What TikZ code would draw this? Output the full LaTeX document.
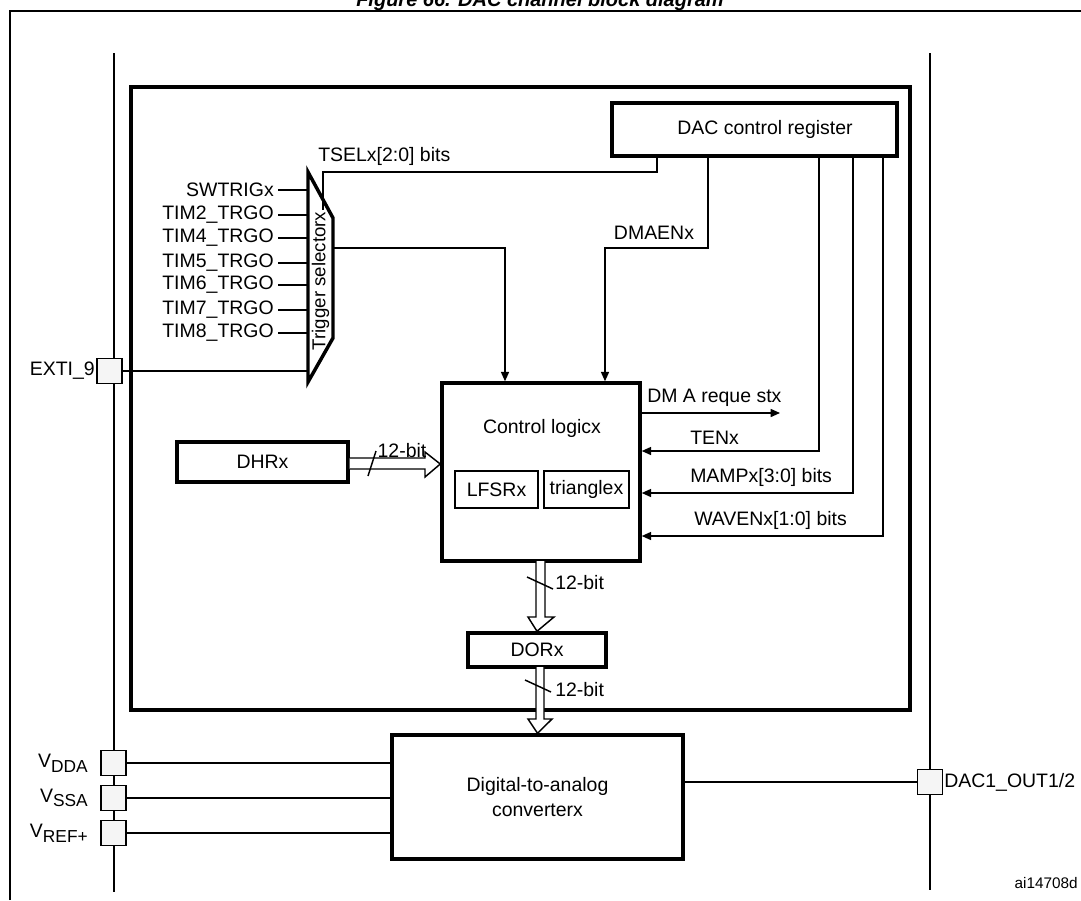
\documentclass[tikz,border=0pt]{standalone}
\usepackage{fontspec}
\setmainfont{Liberation Sans}
\usetikzlibrary{arrows.meta,calc}
\begin{document}
\begin{tikzpicture}[x=0.75pt,y=-0.75pt,
  every node/.style={font=\fontsize{14.6}{16}\selectfont, inner sep=0pt},
  box/.style={draw, line width=2.6pt, rectangle, fill=white},
  sbox/.style={draw, line width=2.2pt, rectangle},
  pad/.style={draw, line width=1.1pt, fill=gray!8, minimum width=18.75pt, minimum height=18.75pt},
  ln/.style={line width=1.1pt},
  arr/.style={ln, -{Triangle[length=7pt,width=6pt]}},
  bus/.style={line width=1.1pt, fill=white},
  sl/.style={line width=1.1pt}]
\useasboundingbox (0,0) rectangle (1081,900);
% title (cut at top)
\node[font=\fontsize{15}{16}\selectfont\bfseries\itshape] (title) at (540,1) {Figure 66. DAC channel block diagram};
% outer frame
\draw[line width=1.6pt] (10,900) -- (10,11) -- (1081,11);
% buses
\draw[ln] (114,53) -- (114,892);
\draw[ln] (930,53) -- (930,890);
% inner box
\draw[line width=3pt] (131,87) rectangle (910,710);

% nodes
\node[box, minimum width=213.75pt, minimum height=39.75pt] (reg) at (754.5,129.5) {};
\node (regt) at (765,129.5) {DAC control register};
\node[box, minimum width=148.5pt, minimum height=133.5pt] (ctl) at (541,472) {};
\node (ctlt) at (542,428) {Control logicx};
\node[sbox, minimum width=62.25pt, minimum height=27.75pt] (lfsr) at (496.5,489.5) {LFSRx};
\node[sbox, minimum width=63.75pt, minimum height=27.75pt] (tri) at (586.5,489.5) {trianglex};
\node[box, minimum width=128.25pt, minimum height=30pt] (dhr) at (262.5,462) {DHRx};
\node[box, minimum width=103.5pt, minimum height=25.5pt] (dor) at (537,650) {DORx};
\node[box, minimum width=218.25pt, minimum height=93pt, align=center] (dac) at (537.5,797) {Digital-to-analog\\[3pt]converterx};

% trigger selector
\coordinate (t1) at (308,172);
\coordinate (t2) at (333,218);
\coordinate (t3) at (333,338);
\coordinate (t4) at (308,382);
\draw[line width=2.6pt, line join=miter] (t1) -- (t2) -- (t3) -- (t4) -- cycle;
\node[rotate=90, font=\fontsize{14}{15}\selectfont] (trgt) at (320.5,281) {Trigger selectorx};

% inputs
\foreach \n/\y/\t in {a/190/SWTRIGx, b/215/TIM2\_TRGO, c/238/TIM4\_TRGO, d/263/TIM5\_TRGO, e/285/TIM6\_TRGO, f/310/TIM7\_TRGO, g/333/TIM8\_TRGO}{
  \node[anchor=east] (in\n) at (274,\y) {\t};
  \draw[ln] (in\n.east) ++(4,0) -- (308,\y);
}
% EXTI
\node[pad] (exti) at (109.5,371) {};
\node[anchor=east] (extit) at (95,371) {EXTI\_9};
\draw[ln] (exti.east) -- (t4 |- exti.east);

% TSEL
\coordinate (tsb) at (323,210);
\draw[ln] (tsb) |- (657,172) -- (reg.south -| 657,0);
\node[anchor=south west] (tselt) at (318,166) {TSELx[2:0] bits};
% trigger output
\draw[arr] (333,248) -| (ctl.north -| 505,0);
% DMAEN
\draw[arr] (reg.south -| 708,0) |- (605,248) -- (ctl.north -| 605,0);
\node (dmaent) at (654,233) {DMAENx};
% DMA request
\draw[arr] (ctl.east |- 0,413) -- (780,413);
\node[anchor=south west] (dmat) at (647,407) {DM A reque stx};
% TEN, MAMP, WAVEN
\draw[arr] (reg.south -| 819,0) |- (ctl.east |- 0,451);
\node[anchor=south west] (tent) at (690,445) {TENx};
\draw[arr] (reg.south -| 853,0) |- (ctl.east |- 0,493);
\node[anchor=south west] (mampt) at (690,487) {MAMPx[3:0] bits};
\draw[arr] (reg.south -| 883,0) |- (ctl.east |- 0,536);
\node[anchor=south west] (wavent) at (694,530) {WAVENx[1:0] bits};

% DHR bus arrow
\draw[bus] (dhr.east |- 0,458) -- (425,458) -- (425,452) -- (ctl.west |- 0,464) -- (425,477) -- (425,469) -- (dhr.east |- 0,469);
\draw[sl] (368,476) -- (376,451);
\node (b1) at (402,451) {12-bit};
% ctl -> dor bus
\draw[bus] (536,561) -- (536,617) -- (528,617) -- (dor.north) -- (554,617) -- (545,617) -- (545,561);
\draw[sl] (527,577) -- (553,589);
\node[anchor=west] (b2) at (555,583) {12-bit};
% dor -> dac bus
\draw[bus] (536,667) -- (536,719) -- (528,719) -- (dac.north) -- (552,719) -- (544,719) -- (544,667);
\draw[sl] (525,680) -- (551,692);
\node[anchor=west] (b3) at (555,690) {12-bit};

% power pads
\foreach \n/\y/\t in {dda/763/DDA, ssa/798/SSA, ref/833/REF+}{
  \node[pad] (p\n) at (113.5,\y) {};
  \draw[ln] (p\n.east) -- (dac.west |- p\n.east);
  \node[anchor=east] (l\n) at (88,\y) {V\raisebox{-0.45ex}{\fontsize{13}{13}\selectfont\t}};
}
% output
\node[pad] (out) at (930,782) {};
\draw[ln] (dac.east |- out.west) -- (out.west);
\node[anchor=west] (outt) at (944,782) {DAC1\_OUT1/2};
\node[anchor=east, font=\fontsize{11.5}{12}\selectfont] (code) at (1078,883) {ai14708d};
\end{tikzpicture}
\end{document}
